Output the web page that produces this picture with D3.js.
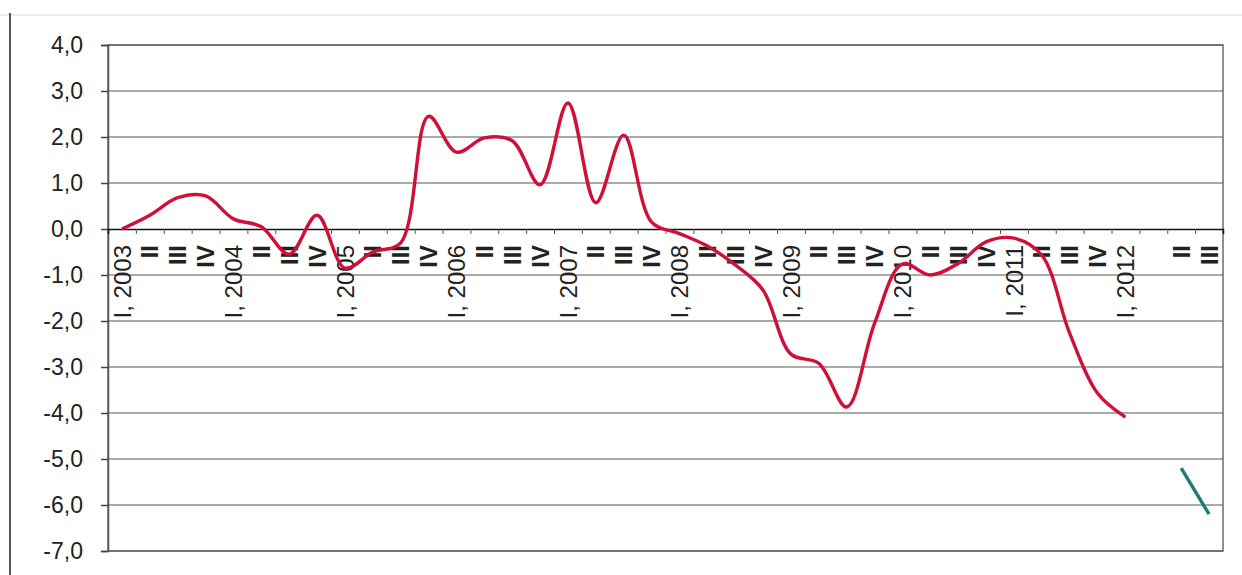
<!DOCTYPE html>
<html>
<head>
<meta charset="utf-8">
<script src="https://cdn.jsdelivr.net/npm/d3@7"></script>
<style>
  html, body { margin: 0; padding: 0; background: #fff; }
  svg { display: block; }
  text { font-family: "Liberation Sans", Arial, sans-serif; fill: #222; }
</style>
</head>
<body>
<svg id="chart" width="1242" height="575"></svg>
<script>
// ---- data ----
const quarterLabels = [
  "I, 2003","II","III","IV",
  "I, 2004","II","III","IV",
  "I, 2005","II","III","IV",
  "I, 2006","II","III","IV",
  "I, 2007","II","III","IV",
  "I, 2008","II","III","IV",
  "I, 2009","II","III","IV",
  "I, 2010","II","III","IV",
  "I, 2011","II","III","IV",
  "I, 2012","","II","III"
];
const redSeries = [
  0.0, 0.3, 0.68, 0.72,
  0.22, 0.05, -0.55, 0.3,
  -0.85, -0.5, -0.3, 2.45,
  1.67, 1.98, 1.92, 0.96,
  2.74, 0.57, 2.04, 0.15,
  -0.1, -0.37, -0.78, -1.33,
  -2.72, -2.92, -3.87, -2.05,
  -0.76, -1.0, -0.75, -0.28,
  -0.2, -0.57, -2.27, -3.57,
  -4.09
];
const tealIndex = [38, 39];
const tealSeries = [-5.2, -6.2];
const yTicks = [4, 3, 2, 1, 0, -1, -2, -3, -4, -5, -6, -7];

// ---- layout ----
const svg = d3.select("#chart");
const pL = 108, pR = 1223, pT = 45, pB = 551;
const n = quarterLabels.length;

const x = d3.scaleBand().domain(d3.range(n)).range([pL, pR]).padding(0);
const xEdge = d3.scaleLinear().domain([0, n]).range([pL, pR]);
const y = d3.scaleLinear().domain([-7, 4]).range([pB, pT]);

// outer chart frame remnants
svg.append("line").attr("x1", 0).attr("x2", 1242).attr("y1", 15).attr("y2", 15)
  .attr("stroke", "#ececec").attr("stroke-width", 2);
svg.append("line").attr("x1", 10).attr("x2", 10).attr("y1", 13).attr("y2", 575)
  .attr("stroke", "#555").attr("stroke-width", 2);

// gridlines
svg.append("g")
  .selectAll("line")
  .data(yTicks.filter(d => d !== 0))
  .join("line")
  .attr("x1", pL).attr("x2", pR)
  .attr("y1", d => y(d)).attr("y2", d => y(d))
  .attr("stroke", "#555").attr("stroke-width", 1);

// plot border
svg.append("rect")
  .attr("x", pL).attr("y", pT)
  .attr("width", pR - pL).attr("height", pB - pT)
  .attr("fill", "none").attr("stroke", "#555").attr("stroke-width", 1.3);

// y axis
const yAxis = svg.append("g")
  .attr("transform", `translate(${pL},0)`)
  .call(d3.axisLeft(y).tickValues(yTicks).tickSize(7).tickPadding(18)
    .tickFormat(d => d.toFixed(1).replace(".", ",")));
yAxis.select(".domain").attr("stroke", "#555").attr("stroke-width", 1.5);
yAxis.selectAll(".tick line").attr("stroke", "#444").attr("stroke-width", 1.5);
yAxis.selectAll("text").attr("font-size", 23).attr("fill", "#222");

// zero line with category ticks
const zeroAxis = svg.append("g")
  .attr("transform", `translate(0,${y(0)})`)
  .call(d3.axisBottom(xEdge).tickValues(d3.range(1, n)).tickSize(5).tickFormat(""));
zeroAxis.select(".domain").attr("stroke", "#111").attr("stroke-width", 1.5);
zeroAxis.selectAll(".tick line").attr("stroke", "#555").attr("stroke-width", 1);

// category labels
const labAxis = svg.append("g")
  .attr("transform", `translate(0,${y(0)})`)
  .call(d3.axisBottom(x).tickSize(0).tickFormat(i => quarterLabels[i]));
labAxis.select(".domain").remove();
labAxis.selectAll("text")
  .attr("transform", "rotate(-90)")
  .attr("x", -16).attr("y", 0).attr("dy", "0.36em")
  .attr("text-anchor", "end")
  .attr("font-size", 24)
  .attr("font-weight", d => quarterLabels[d].startsWith("I,") ? "normal" : "bold")
  .attr("fill", "#111");

// lines
const line = d3.line()
  .x((d, i) => x(i) + x.bandwidth() / 2)
  .y(d => y(d))
  .curve(d3.curveCatmullRom.alpha(0.5));

svg.append("path")
  .datum(redSeries)
  .attr("d", line)
  .attr("fill", "none")
  .attr("stroke", "#d0103a")
  .attr("stroke-width", 3.4)
  .attr("stroke-linejoin", "round");

const tealLine = d3.line()
  .x((d, i) => x(tealIndex[i]) + x.bandwidth() / 2)
  .y(d => y(d));
svg.append("path")
  .datum(tealSeries)
  .attr("d", tealLine)
  .attr("fill", "none")
  .attr("stroke", "#1f7a78")
  .attr("stroke-width", 3.4);
</script>
</body>
</html>
